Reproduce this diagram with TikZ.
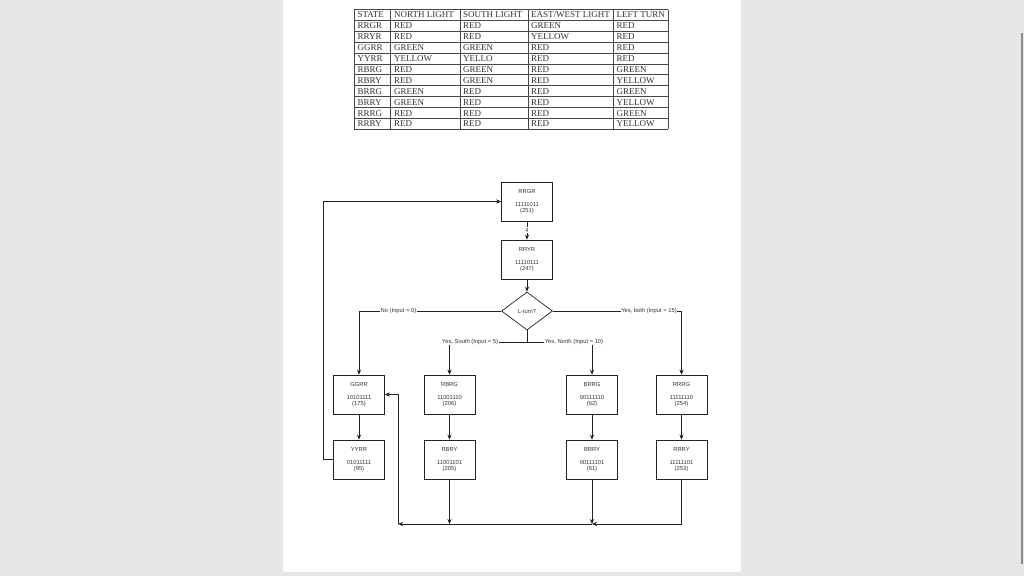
\documentclass[tikz,border=0pt]{standalone}
\usepackage{fontspec}
\setmainfont{Liberation Serif}
\newfontfamily\arialf{Liberation Sans}
\usetikzlibrary{shapes.geometric,arrows.meta}
\definecolor{bggray}{HTML}{E6E6E6}
\definecolor{linec}{HTML}{222222}
\tikzset{
  stbox/.style={draw=linec, line width=0.7pt, minimum width=51pt, minimum height=39pt, inner sep=0pt,
    align=center, font=\arialf\fontsize{5.8}{6.5}\selectfont, text=black!80},
  decide/.style={draw=linec, line width=0.7pt, diamond, minimum width=51pt, minimum height=38pt, inner sep=0pt,
    aspect=1.34, font=\arialf\fontsize{5.8}{6.5}\selectfont, text=black!80},
  conn/.style={draw=linec, line width=0.65pt},
  arr/.style={conn, -{Stealth[length=5pt,width=4.2pt]}},
  elabel/.style={fill=white, inner sep=0.6pt, font=\arialf\fontsize{5.8}{6.5}\selectfont, text=black!80},
  tabtxt/.style={anchor=base west, inner sep=0pt, font=\fontsize{9}{9}\selectfont, text=black!80},
  tabline/.style={draw=black!72, line width=0.85pt}
}
\begin{document}
\begin{tikzpicture}[x=1pt,y=-1pt]
\useasboundingbox (0,0) rectangle (1024,576);
\fill[bggray] (0,0) rectangle (1024,576);
\fill[white] (283,0) rectangle (741,572);
\fill[black!45] (1020.5,33) rectangle (1023,564);

% ---- table ----
\def\ttop{9.5}
\def\rh{10.9}
\foreach \i in {0,...,11} {
  \draw[tabline] (354,{\ttop+\i*\rh}) -- (668,{\ttop+\i*\rh});
}
\foreach \cx in {354,390,460,528,613.5,668} {
  \draw[tabline] (\cx,\ttop) -- (\cx,{\ttop+11*\rh});
}
\foreach \r/\a/\b/\c/\d/\e [count=\k from 0] in {
  STATE/NORTH LIGHT/SOUTH LIGHT/EAST\slash WEST LIGHT/LEFT TURN,
  RRGR/RED/RED/GREEN/RED,
  RRYR/RED/RED/YELLOW/RED,
  GGRR/GREEN/GREEN/RED/RED,
  YYRR/YELLOW/YELLO/RED/RED,
  RBRG/RED/GREEN/RED/GREEN,
  RBRY/RED/GREEN/RED/YELLOW,
  BRRG/GREEN/RED/RED/GREEN,
  BRRY/GREEN/RED/RED/YELLOW,
  RRRG/RED/RED/RED/GREEN,
  RRRY/RED/RED/RED/YELLOW} {
  \pgfmathsetmacro\by{\ttop+\k*\rh+\rh/2+3}
  \node[tabtxt] (t\k a) at (357.5,\by) {\r};
  \node[tabtxt] (t\k b) at (394,\by) {\a};
  \node[tabtxt] (t\k c) at (463,\by) {\b};
  \node[tabtxt] (t\k d) at (531,\by) {\c};
  \node[tabtxt] (t\k e) at (616.5,\by) {\d};
}

% ---- flowchart ----
\node[stbox] (RRGR) at (527,201.5) {RRGR\\[6.5pt]11111011\\(251)};
\node[stbox] (RRYR) at (527,259.5) {RRYR\\[6.5pt]11110111\\(247)};
\node[decide] (LT) at (527,311) {L-turn?};
\node[stbox] (GGRR) at (359,394.5) {GGRR\\[6.5pt]10101111\\(175)};
\node[stbox] (RBRG) at (449.5,394.5) {RBRG\\[6.5pt]11001110\\(206)};
\node[stbox] (BRRG) at (592,394.5) {BRRG\\[6.5pt]00111110\\(62)};
\node[stbox] (RRRG) at (681.5,394.5) {RRRG\\[6.5pt]11111110\\(254)};
\node[stbox] (YYRR) at (359,459.5) {YYRR\\[6.5pt]01011111\\(95)};
\node[stbox] (RBRY) at (449.5,459.5) {RBRY\\[6.5pt]11001101\\(205)};
\node[stbox] (BRRY) at (592,459.5) {BRRY\\[6.5pt]00111101\\(61)};
\node[stbox] (RRRY) at (681.5,459.5) {RRRY\\[6.5pt]11111101\\(253)};

\coordinate (sj) at (527,342);
\coordinate (j1) at (592,524);
\coordinate (j2) at (449.5,524);
\coordinate (j3) at (398,524);
\coordinate (lp) at (323,0);

\draw[arr] (RRGR) -- (RRYR);
\draw[arr] (RRYR) -- (LT);
\draw[arr] (LT.west) -| (GGRR.north);
\draw[arr] (LT.east) -| (RRRG.north);
\draw[conn] (LT.south) -- (sj);
\draw[arr] (sj) -| (RBRG.north);
\draw[arr] (sj) -| (BRRG.north);
\draw[arr] (GGRR) -- (YYRR);
\draw[arr] (RBRG) -- (RBRY);
\draw[arr] (BRRG) -- (BRRY);
\draw[arr] (RRRG) -- (RRRY);
\draw[arr] (YYRR.west) -| (lp |- RRGR.west) -- (RRGR.west);
\draw[arr] (RRRY.south) |- (j1);
\draw[arr] (BRRY.south) -- (j1);
\draw[arr] (RBRY.south) -- (j2);
\draw[arr] (j1) -- (j3);
\draw[arr] (j3) |- (GGRR.east);

\node[elabel] (l4) at (527,230) {4};
\node[elabel] (lno) at (398.5,311) {No (Input = 0)};
\node[elabel] (lboth) at (649,311) {Yes, both (Input = 15)};
\node[elabel] (lsouth) at (470,342) {Yes, South (Input = 5)};
\node[elabel] (lnorth) at (574,342) {Yes, North (Input = 10)};
\end{tikzpicture}
\end{document}
